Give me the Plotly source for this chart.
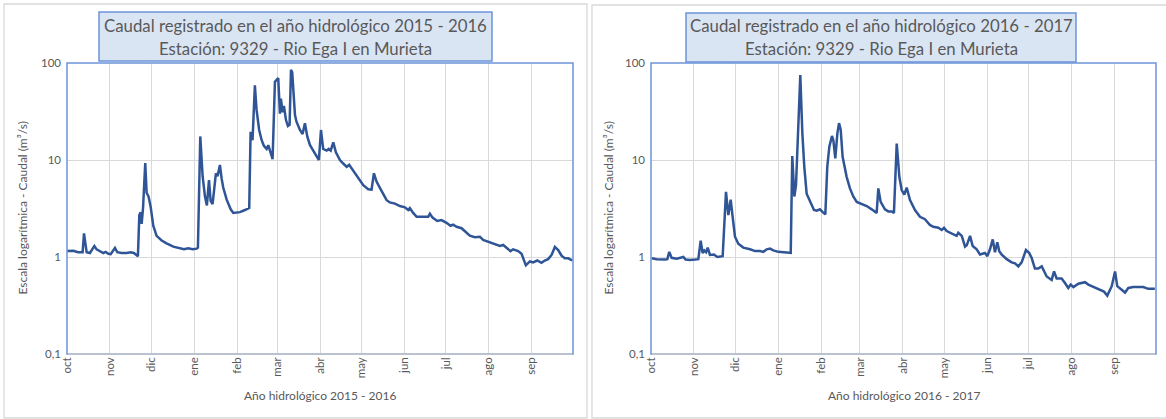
import pandas as pd
import plotly.graph_objects as go

W, H = 1166, 419

# ---------------- DATA ----------------
meses = ["oct", "nov", "dic", "ene", "feb", "mar", "abr", "may", "jun", "jul", "ago", "sep"]
valores_eje_y = [0.1, 1, 10, 100]
etiquetas_eje_y = ["0,1", "1", "10", "100"]

# Año hidrológico 2015-2016 : día desde el 1 de octubre de 2015, caudal (m3/s)
dias_2015 = [0, 4.6, 8, 11.3, 12.3, 13.3, 14.2, 16.6, 19.8, 21.4, 23.9, 26.3, 28, 29.9, 31.6, 33.5,
             34.7, 36.4, 39.5, 43.1, 46, 48.4, 50.4, 51.3, 52.3, 53.3, 54, 55, 56.6, 57.6, 59,
             60.5, 62.4, 64.8, 68.5, 72, 76.9, 81.7, 84.6, 87.7, 90.9, 93.8, 94.7, 96.4, 98.1,
             99.8, 101.2, 102.7, 103.9, 105.3, 106.5, 107.7, 108.9, 110.6, 111.8, 113, 115.5,
             118.4, 120.3, 122.7, 125.1, 128.7, 131.8, 132.8, 134.2, 135.9, 137.1, 139, 140.8,
             142.4, 144.4, 145.6, 147.3, 148.7, 150.4, 151.6, 152.8, 154, 154.7, 156, 156.9,
             158.4, 159.8, 161, 162, 162.9, 164.9, 166, 168.5, 170.4, 172.1, 173.8, 175.7,
             178.1, 180.5, 182.2, 183.7, 185.3, 187.8, 189.2, 190.7, 192.6, 194.5, 197.4,
             199.8, 202.3, 204.1, 205.9, 209.5, 214.3, 217.9, 220.3, 222, 223.9, 227.5, 231.2,
             233.5, 237.2, 240.8, 244.4, 246.8, 248, 250.4, 252.9, 257.6, 261.3, 262.5, 264.4,
             267.8, 270.9, 274.5, 277.4, 279.3, 281.8, 285.4, 289, 291.4, 295, 298.6, 301,
             304.6, 307.1, 310.7, 313.1, 315.5, 318.4, 320.8, 322.7, 326.3, 328.8, 331.9,
             334.8, 337.2, 340.1, 343.2, 345.6, 348, 350.5, 352.9, 355.3, 357.7, 360.1, 362.5,
             365.6]
caudal_2015 = [1.15, 1.16, 1.12, 1.12, 1.75, 1.3, 1.12, 1.1, 1.3, 1.2, 1.15, 1.1, 1.13, 1.08, 1.07,
               1.18, 1.24, 1.12, 1.1, 1.1, 1.12, 1.1, 1.05, 1.02, 2.7, 2.9, 2.2, 3.2, 9.3, 4.6, 4.2,
               3.3, 2.1, 1.65, 1.48, 1.38, 1.28, 1.22, 1.2, 1.23, 1.2, 1.22, 1.25, 17.5, 6.8,
               4.2, 3.4, 6.2, 3.8, 3.5, 5, 7.3, 6.8, 8.9, 6.5, 5.2, 3.9,
               3.1, 2.85, 2.85, 2.9, 3.05, 3.2, 19.5, 16, 59, 33, 20.4, 16,
               14, 13, 14.2, 11.8, 10.2, 64, 67, 70, 30, 43, 31, 36,
               25.8, 22.4, 23, 85, 80, 29, 24.8, 20.4, 18.5, 23.9, 17.5, 14.3,
               12.5, 10.8, 10, 20.4, 13, 12.5, 13, 12.5, 15.2, 12, 10,
               9.2, 8.5, 8.9, 8.2, 7, 5.5, 5.0, 4.95, 7.3, 6.0, 4.8, 3.85,
               3.65, 3.55, 3.35, 3.25, 3.05, 3.2, 2.85, 2.6, 2.6, 2.6, 2.8, 2.55,
               2.35, 2.4, 2.25, 2.1, 2.15, 2.05, 1.98, 1.8, 1.66, 1.6, 1.62, 1.5,
               1.43, 1.4, 1.33, 1.3, 1.33, 1.24, 1.15, 1.2, 1.15, 1.08, 0.82,
               0.9, 0.88, 0.92, 0.87, 0.92, 0.95, 1.05, 1.27, 1.18, 1.03, 0.97, 0.97,
               0.92]

# Año hidrológico 2016-2017 : día desde el 1 de octubre de 2016, caudal (m3/s)
dias_2016 = [0.5, 4.1, 10.1, 11.8, 13.2, 14.9, 18.6, 23.4, 25, 28.2, 31.8, 34.2, 35.9, 37.3, 38.5,
             39.8, 41, 42.6, 45.5, 47.9, 51.8, 54.2, 55.9, 57.6, 59, 60.7, 63.1, 66.7, 71.6,
             75.2, 78.8, 81.2, 83.6, 86, 88.4, 92, 98.1, 101, 102.1, 103.6, 104.8, 106.5, 107.9,
             109.4, 110.8, 112.5, 114.9, 117.8, 119.8, 122.1, 124.1, 126, 127.4, 128.9, 130.8,
             131.8, 133.2, 134.7, 135.9, 137.1, 138.5, 141.4, 143.8, 146.2, 148.7, 152.3, 155.9,
             159.5, 161.9, 163.1, 164.3, 166, 169.1, 171.5, 174, 175.6, 177.6, 179.5, 181.2,
             183.1, 184.8, 187.2, 190.8, 194.4, 198, 201.6, 204, 207.7, 210.1, 211.8, 213.7,
             217.3, 220.9, 222.1, 224.6, 227, 228.2, 230.6, 232.5, 235.4, 237.8, 241.4, 243.1,
             245, 247, 248.6, 250.3, 251.7, 253.5, 257.1, 260.7, 263.1, 265.5, 267.9, 271,
             273.4, 275.2, 277.5, 279.9, 282.4, 286, 289.6, 291.3, 293.2, 296.8, 299.2, 301.6,
             303.3, 305.3, 308.9, 313.7, 316.1, 319.7, 324.5, 327.4, 329.8, 333, 335.4, 337,
             340.2, 342.6, 345, 348.6, 352.2, 355.8, 359.4, 364.2]
caudal_2016 = [0.97, 0.95, 0.94, 0.95, 1.13, 0.98, 0.96, 1.0, 0.94, 0.93, 0.94, 0.95, 1.47, 1.1, 1.17,
               1.12, 1.25, 1.05, 1.06, 1.0, 1.02, 4.7, 2.7, 3.9, 2.6, 1.62, 1.37, 1.25, 1.2,
               1.15, 1.15, 1.13, 1.2, 1.22, 1.17, 1.13, 1.11, 1.1, 11, 4.2, 5.5, 25, 75,
               18.8, 8.5, 4.5, 3.7, 3.05, 3.0, 3.1, 2.9, 2.75, 8.5, 13.7, 17.7,
               16, 10.4, 18.8, 24, 20.5, 10.8, 6.7, 5.1, 4.2, 3.7, 3.5, 3.35,
               3.1, 2.95, 2.85, 5.1, 3.7, 3.1, 2.95, 2.95, 2.85, 14.8, 6.7, 4.9,
               4.4, 5.2, 3.87, 3.05, 2.6, 2.45, 2.14, 2.05, 2.0, 1.9, 2.0, 1.85,
               1.75, 1.65, 1.78, 1.65, 1.28, 1.32, 1.65, 1.3, 1.2, 1.06, 1.1, 1.02,
               1.2, 1.52, 1.12, 1.42, 1.15, 1.06, 0.95, 0.88, 0.86, 0.8, 0.88, 1.18,
               1.1, 0.97, 0.76, 0.76, 0.8, 0.63, 0.58, 0.71, 0.6, 0.6, 0.54, 0.48,
               0.52, 0.49, 0.53, 0.55, 0.52, 0.49, 0.46, 0.44, 0.4, 0.5, 0.71, 0.5,
               0.46, 0.43, 0.48, 0.49, 0.49, 0.49, 0.47, 0.47]

titulo_1 = "Caudal registrado en el año hidrológico 2015 - 2016"
titulo_2 = "Caudal registrado en el año hidrológico 2016 - 2017"
subtitulo = "Estación: 9329 - Rio Ega I en Murieta"
eje_x_1 = "Año hidrológico 2015 - 2016"
eje_x_2 = "Año hidrológico 2016 - 2017"
eje_y = "Escala logarítmica - Caudal (m³/s)"

# ---------------- STYLE ----------------
FONT = "Lato"
TXT = "#595959"
LINE = "#2F5597"
GRID = "#D9D9D9"
BORDER = "#6E94DA"
BOXFILL = "#DAE5F4"


def px(x):
    return x / W


def py(y):
    return 1 - y / H


def fechas(inicio, dias):
    return pd.Timestamp(inicio) + pd.to_timedelta(dias, unit="D")


fig = go.Figure()
fig.add_trace(go.Scatter(x=fechas("2015-10-01", dias_2015), y=caudal_2015, mode="lines",
                         line=dict(color=LINE, width=2.5), xaxis="x", yaxis="y",
                         showlegend=False, hoverinfo="skip"))
fig.add_trace(go.Scatter(x=fechas("2016-10-01", dias_2016), y=caudal_2016, mode="lines",
                         line=dict(color=LINE, width=2.5), xaxis="x2", yaxis="y2",
                         showlegend=False, hoverinfo="skip"))

panels = [
    dict(ax="x", ay="y", start="2015-10-01", end="2016-10-01", L=67, R=573, T=63, B=354,
         outer=(4, 4, 587, 418), box=(99, 12, 492, 61), tc=295.5, tit=titulo_1, xt=eje_x_1, ytx=22),
    dict(ax="x2", ay="y2", start="2016-10-01", end="2017-10-01", L=651, R=1156, T=63, B=354,
         outer=(592, 5, 1175, 418), box=(686, 13, 1076, 62), tc=881, tit=titulo_2, xt=eje_x_2, ytx=608),
]

layout = dict(width=W, height=H, margin=dict(l=0, r=0, t=0, b=0, pad=0, autoexpand=False),
              paper_bgcolor="white", plot_bgcolor="white",
              font=dict(family=FONT, color=TXT), shapes=[], annotations=[])

for i, p in enumerate(panels):
    sfx = "" if i == 0 else "2"
    ticks_mes = list(pd.date_range(p["start"], periods=12, freq="MS"))
    layout["xaxis" + sfx] = dict(
        domain=[px(p["L"]), px(p["R"])], anchor=p["ay"], type="date", automargin=False,
        range=[p["start"], p["end"]], tickmode="array", tickvals=ticks_mes, ticktext=meses,
        tickangle=-90, showgrid=True, gridcolor=GRID, gridwidth=1, zeroline=False,
        showline=False, ticks="", tickfont=dict(family=FONT, size=11.5, color=TXT))
    layout["yaxis" + sfx] = dict(
        domain=[py(p["B"]), py(p["T"])], anchor=p["ax"], type="log", range=[-1, 2], automargin=False,
        tickmode="array", tickvals=valores_eje_y, ticktext=etiquetas_eje_y, ticklabelstandoff=5,
        showgrid=True, gridcolor=GRID, gridwidth=1, zeroline=False, showline=False,
        ticks="", tickfont=dict(family=FONT, size=11.5, color=TXT))
    ox0, oy0, ox1, oy1 = p["outer"]
    layout["shapes"].append(dict(type="rect", xref="paper", yref="paper", x0=px(ox0), x1=px(ox1),
                                 y0=py(oy1), y1=py(oy0), line=dict(color="#D9D9D9", width=1.3),
                                 layer="below"))
    # plot area frame (blue left/top/right, gray bottom)
    layout["shapes"].append(dict(type="rect", xref="paper", yref="paper", x0=px(p["L"]), x1=px(p["R"]),
                                 y0=py(p["B"]), y1=py(p["T"]), line=dict(color=BORDER, width=1.5),
                                 layer="above"))
    layout["shapes"].append(dict(type="line", xref="paper", yref="paper", x0=px(p["L"] + 1), x1=px(p["R"] - 1),
                                 y0=py(p["B"]), y1=py(p["B"]), line=dict(color="#C8C8C8", width=1.5),
                                 layer="above"))
    bx0, by0, bx1, by1 = p["box"]
    layout["shapes"].append(dict(type="rect", xref="paper", yref="paper", x0=px(bx0), x1=px(bx1),
                                 y0=py(by1), y1=py(by0), line=dict(color=BORDER, width=1.5),
                                 fillcolor=BOXFILL, layer="above"))
    layout["annotations"] += [
        dict(text=p["tit"], x=px(p["tc"]), y=py(26), xref="paper", yref="paper", showarrow=False,
             xanchor="center", yanchor="middle", font=dict(family=FONT, size=16.8, color=TXT)),
        dict(text=subtitulo, x=px(p["tc"]), y=py(48), xref="paper", yref="paper", showarrow=False,
             xanchor="center", yanchor="middle", font=dict(family=FONT, size=16.8, color=TXT)),
        dict(text=p["xt"], x=px((p["L"] + p["R"]) / 2), y=py(395), xref="paper", yref="paper",
             showarrow=False, xanchor="center", yanchor="middle",
             font=dict(family=FONT, size=12, color=TXT)),
        dict(text=eje_y, x=px(p["ytx"]), y=py((p["T"] + p["B"]) / 2), xref="paper", yref="paper",
             showarrow=False, xanchor="center", yanchor="middle", textangle=-90,
             font=dict(family=FONT, size=12, color=TXT)),
    ]

fig.update_layout(**layout)
fig.write_html("out.html", config={"displayModeBar": False, "staticPlot": True},
               post_script="document.body.style.margin='0';document.body.style.padding='0';"
                           "document.body.style.overflow='hidden';")
